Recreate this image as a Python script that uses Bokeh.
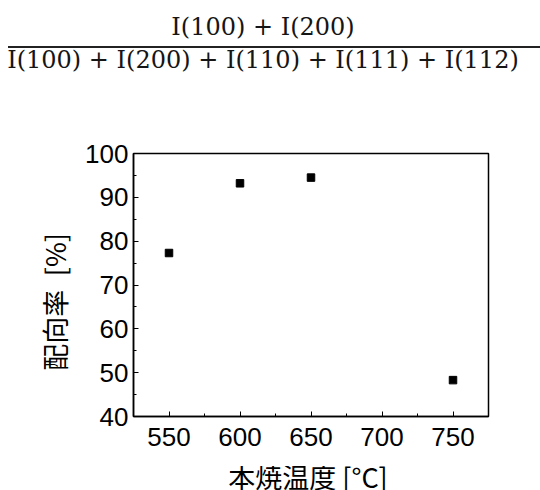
from bokeh.plotting import figure
from bokeh.models import Range1d, FixedTicker, Div
from bokeh.layouts import column
from bokeh.embed import file_html
from bokeh.resources import INLINE

# data
temps = [550, 600, 650, 750]
orientation = [77.3, 93.2, 94.5, 48.3]
x_ticks = [550, 600, 650, 700, 750]
y_ticks = [40, 50, 60, 70, 80, 90, 100]
numerator = "I(100) + I(200)"
denominator = "I(100) + I(200) + I(110) + I(111) + I(112)"
x_label = "本焼温度 [°C]"
y_label = "配向率\u2002[%]"

W = 540
HDR = 100          # header (formula) height
FTR = 24           # footer (x-axis title) height
H = 490 - HDR - FTR
L, R, T, B = 133, 52, 153 - HDR, H - (416 - HDR)

header = Div(width=W, height=HDR, margin=(0, 0, 0, 0), text=f"""
<div style="position:relative;width:{W}px;height:{HDR}px;font-family:'DejaVu Serif',serif;
font-size:24px;line-height:30px;color:#151515;white-space:nowrap;">
 <div style="position:absolute;left:0;width:526px;top:12px;text-align:center;">{numerator}</div>
 <div style="position:absolute;left:8px;width:{W - 8}px;top:46px;height:0;border-top:2px solid #222;"></div>
 <div style="position:absolute;left:0;width:526px;top:45px;text-align:center;">{denominator}</div>
</div>""")

footer = Div(width=W, height=FTR, margin=(0, 0, 0, 0), text=f"""
<div style="position:relative;width:{W}px;height:{FTR}px;overflow:hidden;">
 <div style="position:absolute;left:108px;width:400px;top:-9px;text-align:center;white-space:nowrap;
 font-family:'Noto Sans CJK JP',sans-serif;font-size:27px;line-height:40px;color:black;">{x_label}</div>
</div>""")

p = figure(width=W, height=H, x_range=Range1d(525, 775), y_range=Range1d(40, 100),
           output_backend="svg", toolbar_location=None, margin=(0, 0, 0, 0),
           min_border_left=L, min_border_right=R, min_border_top=T, min_border_bottom=B)
p.grid.visible = False
p.outline_line_color = "black"
p.outline_line_width = 1.5

p.scatter(temps, orientation, marker="square", size=7.5, color="black")

for ax in (p.xaxis[0], p.yaxis[0]):
    ax.axis_line_color = "black"
    ax.axis_line_width = 1.5
    ax.major_tick_in = 5
    ax.major_tick_out = 0
    ax.minor_tick_in = 3
    ax.minor_tick_out = 0
    ax.major_tick_line_color = "black"
    ax.minor_tick_line_color = "black"
    ax.major_label_text_font = "Liberation Sans"
    ax.major_label_text_font_size = "26px"
    ax.major_label_text_color = "black"
    ax.axis_label_text_font = "Noto Sans CJK JP"
    ax.axis_label_text_font_size = "27px"
    ax.axis_label_text_font_style = "normal"
    ax.axis_label_text_color = "black"

p.xaxis.ticker = FixedTicker(ticks=x_ticks, minor_ticks=[525, 575, 625, 675, 725, 775])
p.yaxis.ticker = FixedTicker(ticks=y_ticks, minor_ticks=[45, 55, 65, 75, 85, 95])
# trailing em/quarter spaces shift the rotated title slightly downward, as in the reference
p.yaxis.axis_label = y_label + "\u2003\u2005"
p.xaxis.major_label_standoff = 11
p.yaxis.major_label_standoff = 5
p.yaxis.axis_label_standoff = 8

open("out.html", "w").write(file_html(column(header, p, footer, spacing=0), INLINE))
